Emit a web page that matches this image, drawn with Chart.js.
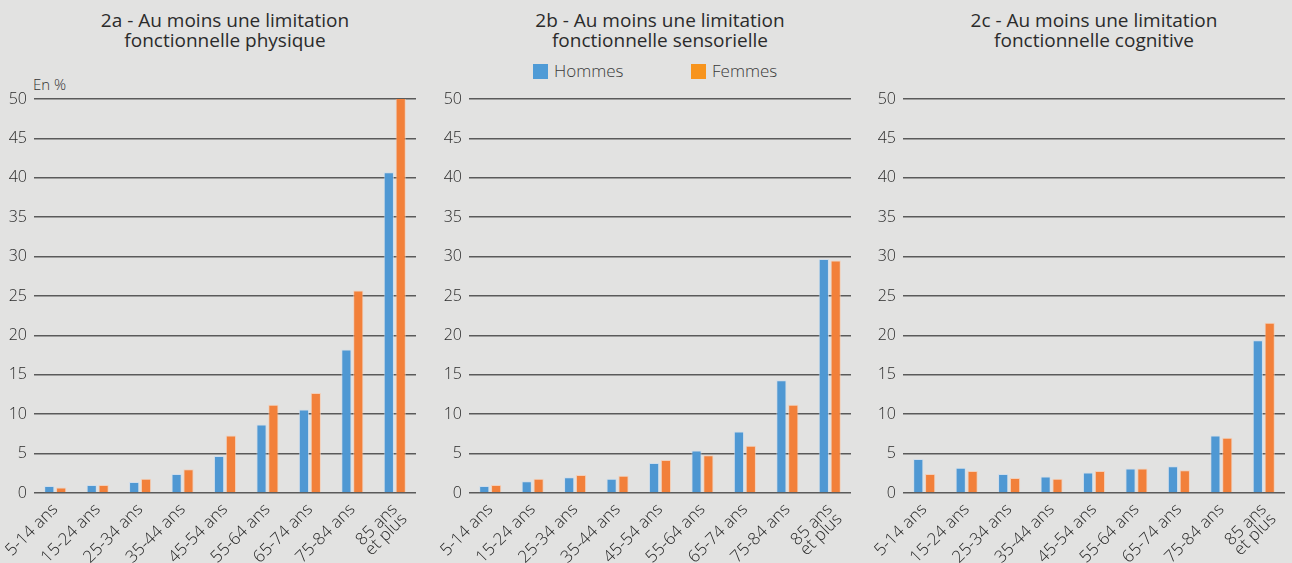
<!DOCTYPE html>
<html><head><meta charset="utf-8">
<script src="https://cdn.jsdelivr.net/npm/chart.js@4.4.1/dist/chart.umd.min.js"></script>
<style>
html,body{margin:0;padding:0;background:#e2e2e1;width:1292px;height:563px;overflow:hidden;font-family:"Open Sans",sans-serif;color:#333;}
.cv{position:absolute;top:0;height:563px;}
.title{position:absolute;top:10px;text-align:center;font-size:19px;line-height:20px;color:#2b2b2b;width:420px;font-weight:400;}
.lg{position:absolute;top:59px;font-size:17px;color:#3a3a3a;font-weight:300;}
.sw{display:inline-block;width:15px;height:15px;vertical-align:-2px;margin-right:6px;}
.unit{position:absolute;left:33px;top:74px;font-size:15px;color:#333;font-weight:300;}
</style></head>
<body>
<div class="title" style="left:15px">2a - Au moins une limitation<br>fonctionnelle physique</div>
<div class="title" style="left:450px">2b - Au moins une limitation<br>fonctionnelle sensorielle</div>
<div class="title" style="left:884px">2c - Au moins une limitation<br>fonctionnelle cognitive</div>
<div class="lg" style="left:533px"><span class="sw" style="background:#4f9bd6"></span>Hommes</div>
<div class="lg" style="left:691px"><span class="sw" style="background:#f7941d"></span>Femmes</div>
<div class="unit">En %</div>
<div class="cv" style="left:0;width:430px"><canvas id="c1"></canvas></div>
<div class="cv" style="left:435px;width:430px"><canvas id="c2"></canvas></div>
<div class="cv" style="left:869px;width:423px"><canvas id="c3"></canvas></div>
<script>
const categories = ['5-14 ans','15-24 ans','25-34 ans','35-44 ans','45-54 ans','55-64 ans','65-74 ans','75-84 ans',['85 ans','et plus']];
const seriesNames = ['Hommes','Femmes'];
const yTicks = [0,5,10,15,20,25,30,35,40,45,50];
const physiqueHommes = [0.9,1.0,1.4,2.4,4.7,8.7,10.6,18.2,40.7];
const physiqueFemmes = [0.7,1.0,1.8,3.0,7.3,11.2,12.7,25.7,50.5];
const sensorielleHommes = [0.9,1.5,2.0,1.8,3.8,5.4,7.8,14.3,29.7];
const sensorielleFemmes = [1.0,1.8,2.3,2.2,4.2,4.8,6.0,11.2,29.5];
const cognitiveHommes = [4.3,3.2,2.4,2.1,2.6,3.1,3.4,7.3,19.4];
const cognitiveFemmes = [2.4,2.8,1.9,1.8,2.8,3.1,2.9,7.0,21.6];

const BLUE = '#4f98d3', ORANGE = '#f2803a';
const FAM = '"Open Sans", sans-serif';

function makeChart(id, men, women, padRight){
  new Chart(document.getElementById(id), {
    type:'bar',
    data:{labels:categories, datasets:[
      {label:seriesNames[0], data:men, backgroundColor:BLUE, borderColor:'rgba(200,220,240,0.7)', borderWidth:{top:1,left:1,right:1,bottom:0}, categoryPercentage:0.56, barPercentage:0.86},
      {label:seriesNames[1], data:women, backgroundColor:ORANGE, borderColor:'rgba(250,200,170,0.7)', borderWidth:{top:1,left:1,right:1,bottom:0}, categoryPercentage:0.56, barPercentage:0.86}
    ]},
    options:{
      responsive:true, maintainAspectRatio:false, animation:false,
      layout:{padding:{top:99, right:padRight, bottom:0, left:0}},
      plugins:{legend:{display:false}, title:{display:false}, tooltip:{enabled:false}},
      scales:{
        x:{
          grid:{display:false}, border:{display:false},
          ticks:{color:'#2a2a2a', font:{family:FAM, size:17, weight:'300', lineHeight:0.8}, minRotation:45, maxRotation:45, autoSkip:false, padding:1},
          afterFit:(s)=>{ s.height = 70; }
        },
        y:{
          min:0, max:50,
          afterBuildTicks:(s)=>{ s.ticks = yTicks.map(v=>({value:v})); },
          grid:{color:'#5a5a5a', lineWidth:1.6, drawTicks:false},
          border:{display:false},
          ticks:{color:'#2a2a2a', font:{family:FAM, size:16, weight:'300'}, padding:7},
          afterFit:(s)=>{ s.width = 34; }
        }
      }
    }
  });
}
makeChart('c1', physiqueHommes, physiqueFemmes, 14);
makeChart('c2', sensorielleHommes, sensorielleFemmes, 14);
makeChart('c3', cognitiveHommes, cognitiveFemmes, 7);
</script>
</body></html>
